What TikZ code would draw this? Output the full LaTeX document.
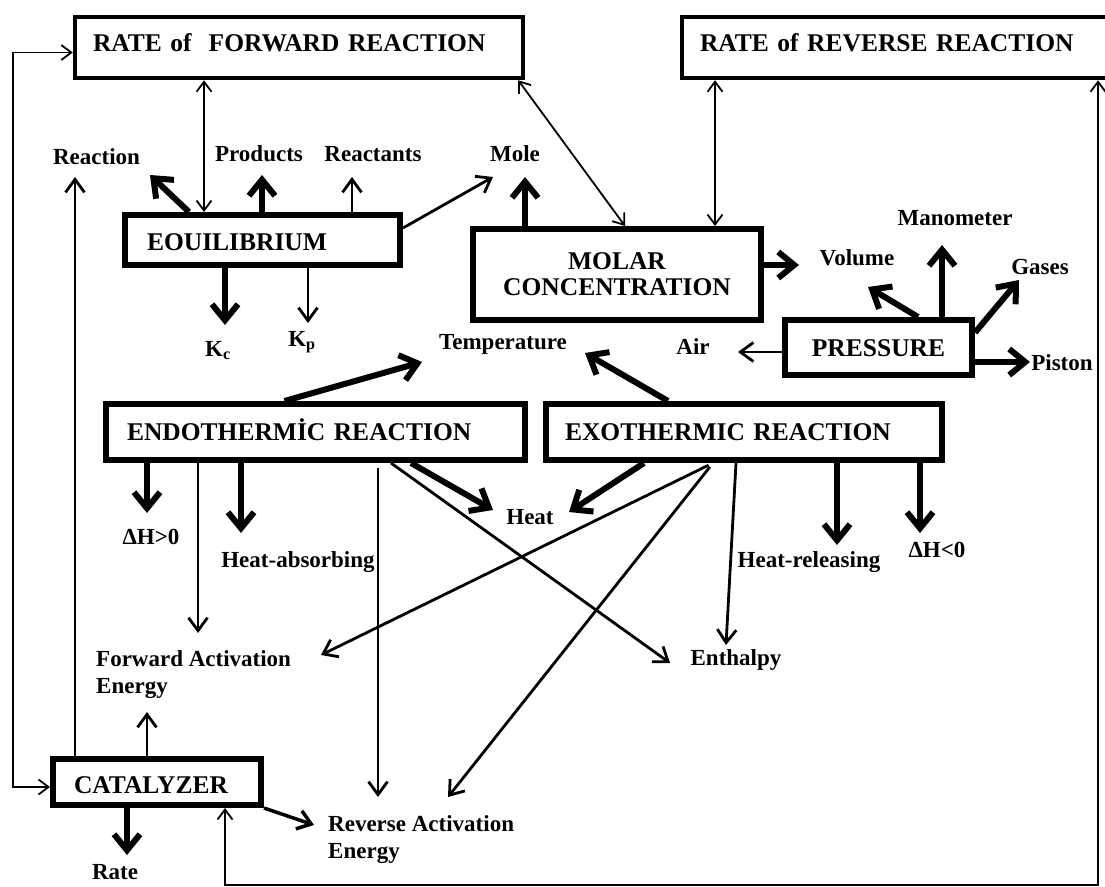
\documentclass[tikz,border=0pt]{standalone}
\usepackage{fontspec}
\setmainfont{Liberation Serif}
\usetikzlibrary{arrows.meta}

\tikzset{
  box/.style={draw, line width=6pt, font=\fontsize{25.5}{26}\selectfont\bfseries, inner ysep=0pt},
  box1/.style={box, text height=17pt, text depth=0pt},
  ratebox/.style={box1, line width=4.5pt, text depth=10pt},
  lbl/.style={font=\fontsize{23}{27}\selectfont\bfseries, inner sep=0pt, anchor=base},
  fat/.style={line width=6pt, -{Straight Barb[length=16pt,width=26pt]}},
  mid/.style={line width=2.8pt, -{Straight Barb[length=13pt,width=19pt]}},
  hair/.style={line width=1.8pt, {Straight Barb[length=10pt,width=15pt]}-{Straight Barb[length=10pt,width=15pt]}},
}

\begin{document}
\begin{tikzpicture}[x=1pt,y=-1pt]
  \path[use as bounding box, fill=white] (0,0) rectangle (1105,886);

  \node[ratebox, minimum height=61pt, text width=412pt, inner xsep=18pt, align=left] (fwd) at (299,47.5) {RATE of\ \ FORWARD REACTION};
  \node[ratebox, minimum height=61pt, text width=392pt, inner xsep=18pt, align=left] (rev) at (896,47.5) {RATE of REVERSE REACTION};
  \node[box1, minimum height=50pt, text width=231pt, inner xsep=22pt, align=left, text height=20pt] (eq) at (262.5,240) {EOUILIBRIUM};
  \node[box, minimum width=288pt, minimum height=91pt, align=center] (molar) at (617,274.5) {MOLAR\\CONCENTRATION};
  \node[box1, minimum width=187pt, minimum height=55pt] (press) at (878.5,347.5) {PRESSURE};
  \node[box1, minimum height=56pt, text width=377pt, inner xsep=21pt, align=left] (endo) at (315.5,432) {ENDOTHERMİC REACTION};
  \node[box1, minimum height=56pt, text width=358pt, inner xsep=19pt, align=left] (exo) at (744,432) {EXOTHERMIC REACTION};
  \node[box1, minimum height=46pt, text width=166pt, inner xsep=21pt, align=left, text height=23pt] (cat) at (157,782) {CATALYZER};

  \node[lbl] (reaction) at (96.5,164.5) {Reaction};
  \node[lbl] (products) at (259,161.5) {Products};
  \node[lbl] (reactants) at (373,161.5) {Reactants};
  \node[lbl] (mole) at (515,161.5) {Mole};
  \node[lbl] (kc) at (218,356) {K\textsubscript{c}};
  \node[lbl] (kp) at (302,346) {K\textsubscript{p}};
  \node[lbl] (temp) at (503,349.5) {Temperature};
  \node[lbl] (volume) at (857,265.5) {Volume};
  \node[lbl] (manometer) at (955,225.5) {Manometer};
  \node[lbl] (gases) at (1040,274.5) {Gases};
  \node[lbl] (air) at (693,354.5) {Air};
  \node[lbl] (piston) at (1062,370.5) {Piston};
  \node[lbl] (dhpos) at (151,544.5) {ΔH>0};
  \node[lbl] (habs) at (298,567.5) {Heat-absorbing};
  \node[lbl] (heat) at (530,524.5) {Heat};
  \node[lbl] (hrel) at (809,567.5) {Heat-releasing};
  \node[lbl] (dhneg) at (937,557.5) {ΔH<0};
  \node[lbl] (enth) at (736,665.5) {Enthalpy};
  \node[lbl, anchor=north west, align=left] (fae) at (96,650) {Forward Activation\\Energy};
  \node[lbl, anchor=north west, align=left] (rae) at (328,815) {Reverse Activation\\Energy};
  \node[lbl] (rate) at (115,879) {Rate};

  \coordinate (t-rx1) at (150,175);
  \coordinate (t-rx2) at (75,177);
  \coordinate (t-prod) at (262,175);
  \coordinate (t-reac) at (352,177);
  \coordinate (t-mole1) at (493,177);
  \coordinate (t-mole2) at (525,177);
  \coordinate (t-kc) at (225,325);
  \coordinate (t-kp) at (308,323);
  \coordinate (t-vol1) at (799,265);
  \coordinate (t-vol2) at (868,287);
  \coordinate (t-man) at (942,245);
  \coordinate (t-gas) at (1019,280);
  \coordinate (t-air) at (738,352);
  \coordinate (t-pist) at (1030,362);
  \coordinate (t-temp1) at (422,362);
  \coordinate (t-temp2) at (585,353);
  \coordinate (t-dhp) at (147,513);
  \coordinate (t-habs) at (241,533);
  \coordinate (t-heat1) at (493,510);
  \coordinate (t-heat2) at (569,512);
  \coordinate (t-hrel) at (837,545);
  \coordinate (t-dhn) at (920,533);
  \coordinate (t-fae1) at (198,633);
  \coordinate (t-fae2) at (321,655);
  \coordinate (t-fae3) at (147,712);
  \coordinate (t-rae1) at (378,797);
  \coordinate (t-rae2) at (448,797);
  \coordinate (t-rae3) at (314,825);
  \coordinate (t-enth1) at (670,663);
  \coordinate (t-enth2) at (726,645);
  \coordinate (t-rate) at (127,855);

  \draw[hair] ([yshift=-5pt]fwd.west) -- ++(-60,0) |- ([yshift=-5pt]cat.west);
  \draw[hair] ([xshift=68pt]cat.south) -- ++(0,77) -| ([xshift=202pt]rev.south);
  \draw[hair] ([xshift=-95pt]fwd.south) -- ([xshift=-58.5pt]eq.north);
  \draw[hair] ([xshift=-7pt]fwd.south east) -- ([xshift=8pt]molar.north);
  \draw[hair] ([xshift=-181pt]rev.south) -- ([xshift=98pt]molar.north);

  \draw[fat] ([xshift=67pt]eq.north west) -- (t-rx1);
  \draw[fat] (eq.north -| t-prod) -- (t-prod);
  \draw[mid] (eq.north -| t-reac) -- (t-reac);
  \draw[mid] ([yshift=12pt]eq.east) -- (t-mole1);
  \draw[fat] (eq.south -| t-kc) -- (t-kc);
  \draw[mid] (eq.south -| t-kp) -- (t-kp);

  \draw[fat] (molar.north -| t-mole2) -- (t-mole2);
  \draw[fat] (t-vol1 -| molar.east) -- (t-vol1);
  \draw[fat] ([xshift=39.5pt]press.north) -- (t-vol2);
  \draw[fat] (press.north -| t-man) -- (t-man);
  \draw[fat] ([yshift=15pt]press.east) -- (t-gas);
  \draw[mid] (t-air -| press.west) -- (t-air);
  \draw[fat] (t-pist -| press.east) -- (t-pist);

  \draw[fat] ([xshift=-31pt]endo.north) -- (t-temp1);
  \draw[fat] ([xshift=-76pt]exo.north) -- (t-temp2);
  \draw[fat] (endo.south -| t-dhp) -- (t-dhp);
  \draw[mid] (endo.south -| t-fae1) -- (t-fae1);
  \draw[fat] (endo.south -| t-habs) -- (t-habs);
  \draw[mid, shorten <=5pt] (endo.south -| t-rae1) -- (t-rae1);
  \draw[fat] ([xshift=95.5pt]endo.south) -- (t-heat1);
  \draw[mid] ([xshift=75.5pt]endo.south) -- (t-enth1);
  \draw[fat] ([xshift=-100pt]exo.south) -- (t-heat2);
  \draw[mid, shorten <=5pt] ([xshift=-31pt]exo.south) -- (t-fae2);
  \draw[mid, shorten <=5pt] ([xshift=-31pt]exo.south) -- (t-rae2);
  \draw[mid] ([xshift=-8pt]exo.south) -- (t-enth2);
  \draw[fat] (exo.south -| t-hrel) -- (t-hrel);
  \draw[fat] (exo.south -| t-dhn) -- (t-dhn);

  \draw[mid] (cat.north -| t-fae3) -- (t-fae3);
  \draw[mid] (cat.north -| t-rx2) -- (t-rx2);
  \draw[fat] (cat.south -| t-rate) -- (t-rate);
  \draw[mid, line width=3.5pt] (cat.south east) -- (t-rae3);
\end{tikzpicture}
\end{document}
